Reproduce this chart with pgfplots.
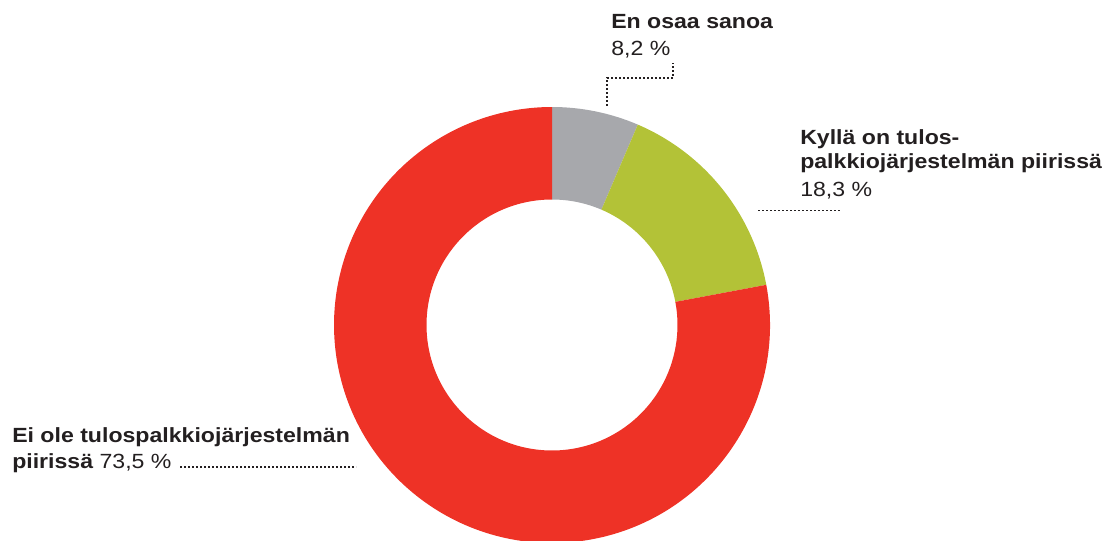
\documentclass[border=0pt]{standalone}
\usepackage{pgfplots}
\usepackage{pgfplotstable}
\pgfplotsset{compat=1.18}
\usepackage{fontspec}
\setmainfont{Liberation Sans}[FakeStretch=1.125]
\definecolor{cgray}{RGB}{167,168,172}
\definecolor{cgreen}{RGB}{179,194,55}
\definecolor{cred}{RGB}{238,50,38}
\definecolor{ctext}{RGB}{35,31,32}

% shares of the ring as drawn (percent), clockwise from 12 o'clock
\pgfplotstableread{
idx share
0 6.44
1 15.61
2 77.95
}\piedata

\newcommand\lbl{\fontsize{15.4pt}{19pt}\selectfont\color{ctext}}

\begin{document}
\begin{tikzpicture}
\pgfplotstablegetelem{0}{share}\of\piedata \pgfmathsetmacro\sA{\pgfplotsretval}
\pgfplotstablegetelem{1}{share}\of\piedata \pgfmathsetmacro\sB{\pgfplotsretval}
\pgfplotstablegetelem{2}{share}\of\piedata \pgfmathsetmacro\sC{\pgfplotsretval}
\pgfmathsetmacro\aZero{90}
\pgfmathsetmacro\aOne{90-3.6*\sA}
\pgfmathsetmacro\aTwo{\aOne-3.6*\sB}
\pgfmathsetmacro\aThree{\aTwo-3.6*\sC}
\def\ringwedge#1#2#3{%
  \fill[#1] (axis cs:{552+218*cos(#2)},{-325+218*sin(#2)})
     arc[start angle=#2, end angle=#3, radius=163.5pt]
     -- (axis cs:{552+125.5*cos(#3)},{-325+125.5*sin(#3)})
     arc[start angle=#3, end angle=#2, radius=94.125pt] -- cycle;}
\begin{axis}[hide axis, x=0.75pt, y=0.75pt,
  xmin=0, xmax=1109, ymin=-540, ymax=0, clip=true]
\coordinate (bl) at (axis cs:0,-540);
\coordinate (tr) at (axis cs:1109,0);
\ringwedge{cgray}{\aZero}{\aOne}
\ringwedge{cgreen}{\aOne}{\aTwo}
\ringwedge{cred}{\aTwo}{\aThree}

% leader lines
\tikzset{leader/.style={ctext, line width=1.3pt, dash pattern=on 1.2pt off 1.8pt}}
\draw[leader]
  (axis cs:607,-106) -- (axis cs:607,-78) -- (axis cs:673,-78) -- (axis cs:673,-63);
\draw[leader] (axis cs:758,-210.5) -- (axis cs:840,-210.5);
\draw[leader] (axis cs:180,-467) -- (axis cs:356,-467);

% labels
\node[anchor=base west, inner sep=0pt, font=\lbl\bfseries] at (axis cs:611,-28.3) {En osaa sanoa};
\node[anchor=base west, inner sep=0pt, font=\lbl] at (axis cs:611,-56) {8,2 \%};

\node[anchor=base west, inner sep=0pt, font=\lbl\bfseries] at (axis cs:800,-144.3) {Kyllä on tulos-};
\node[anchor=base west, inner sep=0pt, font=\lbl\bfseries] at (axis cs:800,-169) {palkkiojärjestelmän piirissä};
\node[anchor=base west, inner sep=0pt, font=\lbl] at (axis cs:800,-196.7) {18,3 \%};

\node[anchor=base west, inner sep=0pt, font=\lbl\bfseries] at (axis cs:12,-442.3) {Ei ole tulospalkkiojärjestelmän};
\node[anchor=base west, inner sep=0pt, font=\lbl] at (axis cs:12,-468.3) {\textbf{piirissä} 73,5 \%};
\end{axis}
\pgfresetboundingbox
\useasboundingbox (bl) rectangle (tr);
\end{tikzpicture}
\end{document}
